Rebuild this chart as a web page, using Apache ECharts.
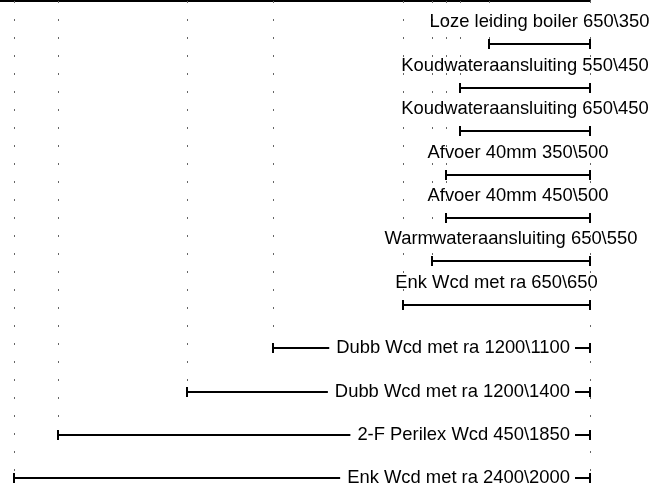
<!DOCTYPE html>
<html>
<head>
<meta charset="utf-8">
<script src="https://cdn.jsdelivr.net/npm/echarts@6/dist/echarts.min.js"></script>
<style>
html,body{margin:0;padding:0;background:#fff;}
#chart{width:663px;height:494px;}
</style>
</head>
<body>
<div id="chart"></div>
<script>
// Data
const categories = [
  'Loze leiding boiler 650\\350',
  'Koudwateraansluiting 550\\450',
  'Koudwateraansluiting 650\\450',
  'Afvoer 40mm 350\\500',
  'Afvoer 40mm 450\\500',
  'Warmwateraansluiting 650\\550',
  'Enk Wcd met ra 650\\650',
  'Dubb Wcd met ra 1200\\1100',
  'Dubb Wcd met ra 1200\\1400',
  '2-F Perilex Wcd 450\\1850',
  'Enk Wcd met ra 2400\\2000'
];
const lengths = [350, 450, 450, 500, 500, 550, 650, 1100, 1400, 1850, 2000];
const axisMax = 2050;

const FONT = '18.4px "Liberation Sans", Arial, sans-serif';
const measureCtx = document.createElement('canvas').getContext('2d');
measureCtx.font = FONT;
function textWidth(t) { return measureCtx.measureText(t).width; }

// dotted guide lines: each distinct start down to its lowest bar, plus zero line
const guideMap = {};
lengths.forEach((v, i) => { guideMap[v] = Math.max(guideMap[v] == null ? -1 : guideMap[v], i); });
const guideData = Object.keys(guideMap).map(k => [Number(k), guideMap[k]]);
guideData.push([0, lengths.length - 1]);

const barData = lengths.map((v, i) => [v, i]);

const chart = echarts.init(document.getElementById('chart'), null, {renderer: 'canvas'});
chart.setOption({
  animation: false,
  backgroundColor: '#fff',
  grid: {left: 0, top: 1, width: 590, height: 477.4, containLabel: false},
  xAxis: {
    type: 'value', inverse: true, min: 0, max: axisMax, position: 'top',
    axisLine: {show: true, onZero: false, lineStyle: {color: '#000', width: 2}},
    axisTick: {show: false}, axisLabel: {show: false}, splitLine: {show: false}
  },
  yAxis: {
    type: 'value', inverse: true, min: -1, max: lengths.length - 1,
    axisLine: {show: false, onZero: false}, axisTick: {show: false}, axisLabel: {show: false}, splitLine: {show: false}
  },
  series: [
    {
      type: 'custom',
      clip: false,
      data: guideData,
      z: 1,
      renderItem: function (params, api) {
        const v = api.value(0), i = api.value(1);
        const top = api.coord([v, -1]);
        const bot = api.coord([v, i]);
        const x = Math.round(top[0]) + 0.5;
        return {
          type: 'line',
          shape: {x1: x, y1: top[1], x2: x, y2: bot[1]},
          style: {stroke: '#666', lineWidth: 1, lineDash: [2, 16]}
        };
      }
    },
    {
      type: 'custom',
      clip: false,
      data: barData,
      z: 2,
      renderItem: function (params, api) {
        const v = api.value(0), i = api.value(1);
        const idx = params.dataIndex;
        const label = categories[idx];
        const p0 = api.coord([v, i]);
        const p1 = api.coord([0, i]);
        const y = Math.round(p0[1]);
        const x0 = Math.round(p0[0]);
        const x1 = Math.round(p1[0]);
        const tw = textWidth(label);
        const lineStyle = {stroke: '#000', lineWidth: 2};
        const children = [
          {type: 'line', shape: {x1: x0, y1: y - 5, x2: x0, y2: y + 5}, style: lineStyle},
          {type: 'line', shape: {x1: x1, y1: y - 5, x2: x1, y2: y + 5}, style: lineStyle}
        ];
        const barLen = x1 - x0;
        if (barLen > tw + 40) {
          const textRight = x1 - 20;
          const textLeft = textRight - tw;
          children.push({type: 'line', shape: {x1: x0, y1: y, x2: textLeft - 7, y2: y}, style: lineStyle});
          children.push({type: 'line', shape: {x1: textRight + 5, y1: y, x2: x1, y2: y}, style: lineStyle});
          children.push({type: 'text', style: {
            text: label, x: textRight, y: y, font: FONT, fill: '#000',
            align: 'right', verticalAlign: 'middle', textAlign: 'right', textVerticalAlign: 'middle'
          }});
        } else {
          children.push({type: 'line', shape: {x1: x0, y1: y, x2: x1, y2: y}, style: lineStyle});
          children.push({type: 'text', style: {
            text: label, x: (x0 + x1) / 2, y: y - 22, font: FONT, fill: '#000',
            align: 'center', verticalAlign: 'middle', textAlign: 'center', textVerticalAlign: 'middle'
          }});
        }
        return {type: 'group', children: children};
      }
    }
  ]
});
</script>
</body>
</html>
